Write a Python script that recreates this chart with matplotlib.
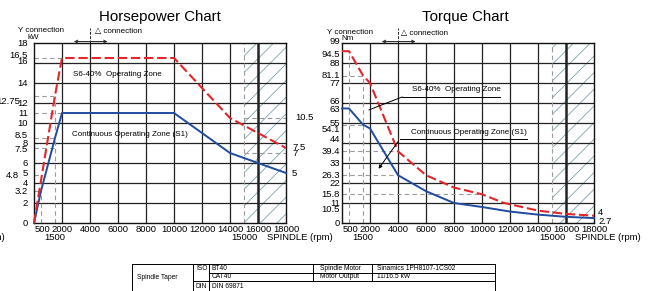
import matplotlib
matplotlib.use("Agg")
import matplotlib.pyplot as plt

plt.rcParams['font.family'] = ['Liberation Sans', 'DejaVu Sans']
plt.rcParams['hatch.linewidth'] = 0.6
plt.rcParams['hatch.color'] = '#7fa3ad'

# ---- data ----
hp_s6_rpm = [0, 1500, 2000, 10000, 14000, 18000]
hp_s6_kw = [0, 12.75, 16.5, 16.5, 10.5, 7.5]
hp_s1_rpm = [0, 500, 1500, 2000, 10000, 14000, 18000]
hp_s1_kw = [0, 3.2, 8.5, 11, 11, 7, 5]

tq_s6_rpm = [0, 500, 1500, 2000, 4000, 6000, 8000, 10000, 11500, 14000, 16000, 18000]
tq_s6_nm = [94.5, 94.5, 81.1, 77, 39.4, 26.3, 19.5, 15.8, 11.2, 6.8, 5, 4]
tq_s1_rpm = [0, 500, 1500, 2000, 4000, 6000, 8000, 10000, 12000, 14000, 16000, 18000]
tq_s1_nm = [63, 63, 54.1, 52, 26.3, 17.5, 11, 8.8, 6.3, 4.6, 3.4, 2.7]

hp_yticks = ['0', '2', '3.2', '4', '4.8', '5', '6', '7.5', '8', '8.5', '10', '11',
             '12', '12.75', '14', '16', '16.5', '18']
hp_right = ['10.5', '7.5', '7', '5']
tq_yticks = ['0', '10.5', '11', '15.8', '22', '26.3', '33', '39.4', '44', '54.1', '55',
             '63', '66', '77', '81.1', '88', '94.5', '99']
tq_right = ['4', '2.7']
x_row1 = ['500', '2000', '4000', '6000', '8000', '10000', '12000', '14000', '16000', '18000']
x_row2 = ['1500', '15000']

# reference (dashed gray) lines: (x0, x1, y) and (x, y0, y1)
hp_href = [(0, 2000, 16.5), (0, 1500, 12.75), (0, 2000, 11), (0, 1500, 8.5),
           (0, 1500, 7.5), (0, 500, 4.8), (0, 500, 3.2), (15000, 18000, 10.5), (15000, 18000, 7)]
hp_vref = [(1500, 0, 12.75), (500, 0, 3.2)]
tq_href = [(0, 1500, 81.1), (0, 1500, 54.1), (0, 4000, 39.4), (0, 4000, 26.3), (0, 10000, 15.8)]
tq_vref = [(500, 0, 94.5), (1500, 0, 81.1)]

table_left = ['Spindle Taper', 'ISO', 'DIN', 'BT40', 'CAT40', 'DIN 69871']
table_right = ['Spindle Motor', 'Motor Output', 'Sinamics 1PH8107-1CS02', '11/16.5 kW']

RED = '#e3262a'
BLUE = '#1f4c9e'
GRAY = '#9a9a9a'
W, H = 649, 291
FT = 6.8   # tick label size
FA = 5.8   # annotation size

fig = plt.figure(figsize=(W / 100, H / 100), dpi=100)
ov = fig.add_axes([0, 0, 1, 1], zorder=-1)
ov.set_xlim(0, W)
ov.set_ylim(H, 0)
ov.axis('off')

axL = fig.add_axes([34 / W, 1 - 223 / H, 252 / W, 180 / H])
axR = fig.add_axes([342 / W, 1 - 223 / H, 252 / W, 180 / H])


def setup(ax, ymax, ystep, hrefs, vrefs):
    ax.set_xlim(0, 18000)
    ax.set_ylim(0, ymax)
    ax.set_xticks([])
    ax.set_yticks([])
    for s in ax.spines.values():
        s.set_linewidth(1.0)
        s.set_color('#111')
    y = ystep
    while y < ymax - 0.01:
        ax.axhline(y, color='#222', lw=0.9, zorder=1)
        y += ystep
    for x in range(2000, 18000, 2000):
        ax.axvline(x, color='#222', lw=1.8 if x == 16000 else 0.9, zorder=1)
    ax.axvspan(15000, 18000, facecolor='none', edgecolor='#7fa3ad', hatch='//', lw=0, zorder=0.5)
    ax.axvline(15000, color=GRAY, lw=0.8, ls=(0, (4, 3)), zorder=1)
    for x0, x1, yy in hrefs:
        ax.plot([x0, x1], [yy, yy], color=GRAY, lw=0.8, ls=(0, (4, 3)), zorder=1.5)
    for xx, y0, y1 in vrefs:
        ax.plot([xx, xx], [y0, y1], color=GRAY, lw=0.8, ls=(0, (4, 3)), zorder=1.5)
    # extension of the 4000 line and the Y / delta arrow
    ax.plot([4000, 4000], [ymax, ymax * 1.085], color='#222', lw=0.7, ls=(0, (3, 1.5)), clip_on=False)
    ax.annotate('', xy=(2650, ymax * 1.008), xytext=(5450, ymax * 1.008),
                arrowprops=dict(arrowstyle='<->', lw=0.7, color='#222', mutation_scale=5),
                annotation_clip=False)
    # x labels
    for lab in x_row1:
        v = float(lab)
        dx = 2 if lab == '500' else 0
        ax.annotate(lab, xy=(v, 0), xycoords=('data', 'axes fraction'), xytext=(dx, -7),
                    textcoords='offset pixels', ha='center', va='center', fontsize=FT)
    for lab in x_row2:
        ax.annotate(lab, xy=(float(lab), 0), xycoords=('data', 'axes fraction'), xytext=(0, -14),
                    textcoords='offset pixels', ha='center', va='center', fontsize=FT)
    ax.annotate('SPINDLE (rpm)', xy=(16650, 0), xycoords=('data', 'axes fraction'), xytext=(0, -14),
                textcoords='offset pixels', ha='left', va='center', fontsize=FT)


# ---------- horsepower chart ----------
setup(axL, 18, 2, hp_href, hp_vref)
axL.plot(hp_s1_rpm, hp_s1_kw, color=BLUE, lw=1.4, zorder=3, clip_on=False)
axL.plot(hp_s6_rpm, hp_s6_kw, color=RED, lw=1.5, dashes=(4.5, 1.8), dash_capstyle='butt',
         zorder=3, clip_on=False)
hp_shift = {'12.75': (-8, -6), '4.8': (-9, 0), '16.5': (0, 3), '16': (0, 1),
            '8.5': (0, 2), '7.5': (0, -2)}
for lab in hp_yticks:
    dx, dy = hp_shift.get(lab, (0, 0))
    axL.annotate(lab, xy=(0, float(lab)), xycoords=('axes fraction', 'data'), xytext=(-6 + dx, dy),
                 textcoords='offset pixels', ha='right', va='center', fontsize=FT)
for lab in hp_right:
    dx = 9 if lab == '10.5' else 6
    axL.annotate(lab, xy=(1, float(lab)), xycoords=('axes fraction', 'data'), xytext=(dx, 0),
                 textcoords='offset pixels', ha='left', va='center', fontsize=FT)
axL.text(2800, 14.9, 'S6-40%  Operating Zone', fontsize=FA, va='center', ha='left')
axL.text(2700, 8.8, 'Continuous Operating Zone (S1)', fontsize=FA, va='center', ha='left')

# ---------- torque chart ----------
setup(axR, 99, 11, tq_href, tq_vref)
axR.plot(tq_s1_rpm, tq_s1_nm, color=BLUE, lw=1.4, zorder=3, clip_on=False)
axR.plot(tq_s6_rpm, tq_s6_nm, color=RED, lw=1.5, dashes=(4.5, 1.8), dash_capstyle='butt',
         zorder=3, clip_on=False)
tq_shift = {'94.5': -3, '54.1': -5, '10.5': -6, '44': 4, '99': 1, '66': 1.5, '63': -1.5}
for lab in tq_yticks:
    axR.annotate(lab, xy=(0, float(lab)), xycoords=('axes fraction', 'data'),
                 xytext=(-2, tq_shift.get(lab, 0)),
                 textcoords='offset pixels', ha='right', va='center', fontsize=FT)
for lab, dy in zip(tq_right, [3, -3]):
    axR.annotate(lab, xy=(1, float(lab)), xycoords=('axes fraction', 'data'), xytext=(4, dy),
                 textcoords='offset pixels', ha='left', va='center', fontsize=FT)
axR.text(5000, 73.2, 'S6-40%  Operating Zone', fontsize=FA, va='center', ha='left', zorder=4)
axR.plot([4290, 11290], [69.3, 69.3], color='k', lw=0.7, zorder=4)
axR.plot([4290, 1930], [69.3, 62.2], color='k', lw=0.7, zorder=4)
axR.text(4930, 49.5, 'Continuous Operating Zone (S1)', fontsize=FA, va='center', ha='left', zorder=4)
axR.plot([4140, 13210], [46.2, 46.2], color='k', lw=0.7, zorder=4)
axR.annotate('', xy=(2500, 28.6), xytext=(4140, 46.2),
             arrowprops=dict(arrowstyle='-|>', lw=0.7, color='k', mutation_scale=5), zorder=4)

# ---------- titles and headers ----------
ov.text(160, 17, 'Horsepower Chart', fontsize=10.8, ha='center', va='center')
ov.text(465, 17, 'Torque Chart', fontsize=10.8, ha='center', va='center')
ov.text(41, 31, 'Y connection', fontsize=FA, ha='center', va='center')
ov.text(33, 37.5, 'kW', fontsize=FA, ha='center', va='center')
ov.text(95, 32, '\u25b3 connection', fontsize=FA, ha='left', va='center')
ov.text(350, 32, 'Y connection', fontsize=FA, ha='center', va='center')
ov.text(348, 38.5, 'Nm', fontsize=FA, ha='center', va='center')
ov.text(401, 33, '\u25b3 connection', fontsize=FA, ha='left', va='center')
ov.text(5, 237, '(rpm)', fontsize=FT, ha='right', va='center')

# ---------- spec table ----------
lk = dict(color='k', lw=0.7)
ov.plot([132, 495, 495, 132, 132], [264, 264, 292, 292, 264], **lk)
ov.plot([193, 193], [264, 292], **lk)
ov.plot([209, 209], [264, 292], **lk)
ov.plot([313, 313], [264, 281], **lk)
ov.plot([372, 372], [264, 281], **lk)
ov.plot([209, 495], [272.5, 272.5], **lk)
ov.plot([193, 495], [281, 281], **lk)
ts = 4.8
ov.text(137, 277.5, table_left[0], fontsize=ts, va='center')
ov.text(196, 268.5, table_left[1], fontsize=ts, va='center')
ov.text(196, 286, table_left[2], fontsize=ts, va='center')
ov.text(212, 268.5, table_left[3], fontsize=ts, va='center')
ov.text(212, 277, table_left[4], fontsize=ts, va='center')
ov.text(212, 286, table_left[5], fontsize=ts, va='center')
ov.text(320, 268.5, table_right[0], fontsize=ts, va='center')
ov.text(320, 277, table_right[1], fontsize=ts, va='center')
ov.text(377, 268.5, table_right[2], fontsize=ts, va='center')
ov.text(377, 277, table_right[3], fontsize=ts, va='center')

fig.savefig('out.png', dpi=100)
